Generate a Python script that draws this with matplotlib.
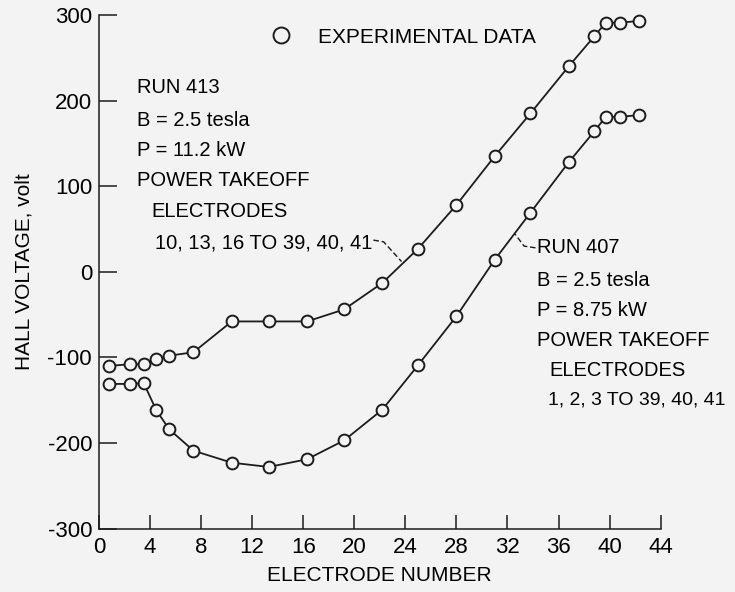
import matplotlib.pyplot as plt
from matplotlib import font_manager

# electrode numbers (same positions for both runs)
electrode = [0.8, 2.4, 3.5, 4.5, 5.5, 7.4, 10.4, 13.3, 16.3, 19.2, 22.2, 25.0,
             28.0, 31.0, 33.8, 36.8, 38.8, 39.7, 40.8, 42.3]
# run 413, B = 2.5 T, P = 11.2 kW
run413 = [-110, -108, -108, -102, -98, -94, -58, -58, -58, -44, -13, 27,
          78, 135, 185, 240, 275, 291, 291, 293]
# run 407, B = 2.5 T, P = 8.75 kW
run407 = [-131, -131, -130, -162, -184, -209, -223, -228, -219, -197, -161, -109,
          -52, 14, 69, 128, 164, 181, 181, 183]

xticks = [0, 4, 8, 12, 16, 20, 24, 28, 32, 36, 40, 44]
yticks = [-300, -200, -100, 0, 100, 200, 300]

bg = '#f3f3f3'
ink = '#1c1c1c'

names = set(f.name for f in font_manager.fontManager.ttflist)
fam = [n for n in ['DejaVu Sans Condensed', 'Liberation Sans Narrow',
                   'Liberation Sans'] if n in names] + ['DejaVu Sans']
plt.rcParams['font.family'] = fam
plt.rcParams['font.size'] = 15
plt.rcParams['axes.unicode_minus'] = False

fig = plt.figure(figsize=(7.35, 5.92), dpi=100, facecolor=bg)
ax = fig.add_axes([0.1347, 0.1071, 0.7641, 0.8676])
ax.set_facecolor(bg)

l1, = ax.plot(electrode, run413, '-o', color=ink, lw=1.3, ms=8.5,
              mfc=bg, mec=ink, mew=1.4, label='EXPERIMENTAL DATA', clip_on=False)
ax.plot(electrode, run407, '-o', color=ink, lw=1.3, ms=8.5,
        mfc=bg, mec=ink, mew=1.4, clip_on=False)

ax.set_xlim(0, 44)
ax.set_ylim(-300, 300)
ax.set_xticks(xticks)
ax.set_yticks(yticks)
ax.spines['top'].set_visible(False)
ax.spines['right'].set_visible(False)
for s in ['left', 'bottom']:
    ax.spines[s].set_color(ink)
    ax.spines[s].set_linewidth(1.1)
ax.tick_params(axis='y', direction='in', length=13, width=1.1, color=ink, pad=5,
               labelsize=16)
ax.tick_params(axis='x', direction='in', length=10, width=1.1, color=ink, pad=6,
               labelsize=16)
ax.set_xlabel('ELECTRODE NUMBER', labelpad=6)
ax.set_ylabel('HALL VOLTAGE, volt', labelpad=10)

leg = ax.legend(handles=[l1], loc='center left', bbox_to_anchor=(0.29, 0.957),
                frameon=False, handlelength=0, handletextpad=1.8, markerscale=1.35,
                fontsize=15)
for h in leg.legend_handles:
    h.set_linestyle('none')

fs = 14.5
# run 413 annotation
left = ['RUN 413', 'B = 2.5 tesla', 'P = 11.2 kW', 'POWER TAKEOFF']
ys = [215, 177, 142, 107]
for t, yy in zip(left, ys):
    ax.text(3.0, yy, t, va='center', ha='left', fontsize=fs)
ax.text(4.1, 70, 'ELECTRODES', va='center', ha='left', fontsize=fs)
ax.text(4.4, 34, '10, 13, 16 TO 39, 40, 41', va='center', ha='left', fontsize=fs)
ax.plot([21.5, 22.3, 23.7], [37, 35, 12], color=ink, lw=1.0, ls=(0, (4, 2)))

# run 407 annotation
right = ['RUN 407', 'B = 2.5 tesla', 'P = 8.75 kW', 'POWER TAKEOFF']
ys = [28, -10, -45, -80]
for t, yy in zip(right, ys):
    ax.text(34.3, yy, t, va='center', ha='left', fontsize=fs, clip_on=False)
ax.text(35.3, -115, 'ELECTRODES', va='center', ha='left', fontsize=fs,
        clip_on=False)
ax.text(35.2, -150, '1, 2, 3 TO 39, 40, 41', va='center', ha='left', fontsize=14,
        clip_on=False)
ax.plot([34.2, 33.3, 32.6], [28, 30, 44], color=ink, lw=1.0, ls=(0, (4, 2)))

fig.savefig('out.png', dpi=100, facecolor=bg)
